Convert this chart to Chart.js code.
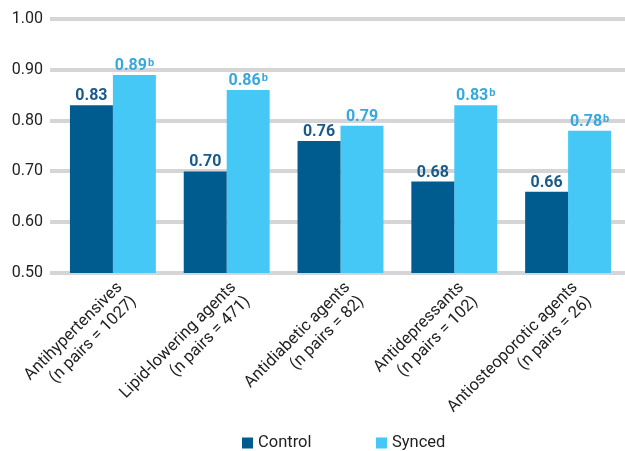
<!DOCTYPE html>
<html lang="en">
<head>
    <meta charset="UTF-8">
    <title>Control vs Synced</title>
    <script src="https://cdn.jsdelivr.net/npm/chart.js"></script>
    <style>
        html, body { margin: 0; padding: 0; background: #fff; }
        #wrap { width: 625px; height: 451px; }
    </style>
</head>
<body>
    <div id="wrap"><canvas id="barChart"></canvas></div>

    <script>
        const categories = [
            ['Antihypertensives', '(n pairs = 1027)'],
            ['Lipid-lowering agents', '(n pairs = 471)'],
            ['Antidiabetic agents', '(n pairs = 82)'],
            ['Antidepressants', '(n pairs = 102)'],
            ['Antiosteoporotic agents', '(n pairs = 26)']
        ];
        const controlValues = [0.83, 0.70, 0.76, 0.68, 0.66];
        const syncedValues = [0.89, 0.86, 0.79, 0.83, 0.78];
        const controlNotes = ['', '', '', '', ''];
        const syncedNotes = ['b', 'b', '', 'b', 'b'];
        const yTicks = [0.5, 0.6, 0.7, 0.8, 0.9, 1.0];

        const FONT = 'Roboto';

        // value labels above each bar, with a small superscript note
        const valueLabels = {
            id: 'valueLabels',
            afterDatasetsDraw(chart) {
                const ctx = chart.ctx;
                chart.data.datasets.forEach((ds, di) => {
                    const meta = chart.getDatasetMeta(di);
                    meta.data.forEach((bar, i) => {
                        const txt = ds.data[i].toFixed(2);
                        const note = ds.notes[i];
                        ctx.save();
                        ctx.font = 'bold 16px ' + FONT;
                        const w1 = ctx.measureText(txt).width;
                        ctx.font = 'bold 11px ' + FONT;
                        const w2 = note ? ctx.measureText(note).width + 1 : 0;
                        const x0 = bar.x - (w1 + w2) / 2;
                        const y0 = bar.y - 5;
                        ctx.fillStyle = ds.labelColor;
                        ctx.textBaseline = 'alphabetic';
                        ctx.textAlign = 'left';
                        ctx.font = 'bold 16px ' + FONT;
                        ctx.fillText(txt, x0, y0);
                        if (note) {
                            ctx.font = 'bold 11px ' + FONT;
                            ctx.fillText(note, x0 + w1 + 1, y0 - 4);
                        }
                        ctx.restore();
                    });
                });
            }
        };

        // legend drawn at the bottom, items spaced wide apart
        const wideLegend = {
            id: 'wideLegend',
            afterDraw(chart) {
                const ctx = chart.ctx;
                const startX = [242, 376];
                const y = 443;
                ctx.save();
                ctx.font = '16.5px ' + FONT;
                ctx.textBaseline = 'middle';
                ctx.textAlign = 'left';
                chart.data.datasets.forEach((ds, i) => {
                    ctx.fillStyle = ds.backgroundColor;
                    ctx.fillRect(startX[i], y - 5.5, 11, 11);
                    ctx.fillStyle = '#222';
                    ctx.fillText(ds.label, startX[i] + 16, y);
                });
                ctx.restore();
            }
        };

        new Chart(document.getElementById('barChart'), {
            type: 'bar',
            data: {
                labels: categories,
                datasets: [{
                    label: 'Control',
                    data: controlValues,
                    notes: controlNotes,
                    backgroundColor: '#005b8f',
                    labelColor: '#1a5a88',
                    barPercentage: 1,
                    categoryPercentage: 0.755
                }, {
                    label: 'Synced',
                    data: syncedValues,
                    notes: syncedNotes,
                    backgroundColor: '#45c8f5',
                    labelColor: '#37a7df',
                    barPercentage: 1,
                    categoryPercentage: 0.755
                }]
            },
            plugins: [valueLabels, wideLegend],
            options: {
                responsive: true,
                maintainAspectRatio: false,
                animation: false,
                layout: {
                    padding: { top: 19, left: 0, right: -6, bottom: 0 }
                },
                scales: {
                    y: {
                        min: 0.5,
                        max: 1.0,
                        afterFit(scale) { scale.width = 56; },
                        afterBuildTicks(scale) {
                            scale.ticks = yTicks.map(v => ({ value: v }));
                        },
                        border: { display: false },
                        grid: {
                            color: '#d5d5d7',
                            lineWidth: 4,
                            drawTicks: true,
                            tickLength: 6
                        },
                        ticks: {
                            padding: 7,
                            color: '#222',
                            font: { family: FONT, size: 16 },
                            callback: v => v.toFixed(2)
                        }
                    },
                    x: {
                        afterFit(scale) { scale.height = 178; },
                        border: { display: false },
                        grid: { display: false, drawTicks: false },
                        ticks: {
                            minRotation: 45,
                            maxRotation: 45,
                            padding: 5,
                            labelOffset: 7,
                            color: '#222',
                            font: { family: FONT, size: 16.5 }
                        }
                    }
                },
                plugins: {
                    tooltip: { enabled: false },
                    legend: { display: false }
                }
            }
        });
    </script>
</body>
</html>
